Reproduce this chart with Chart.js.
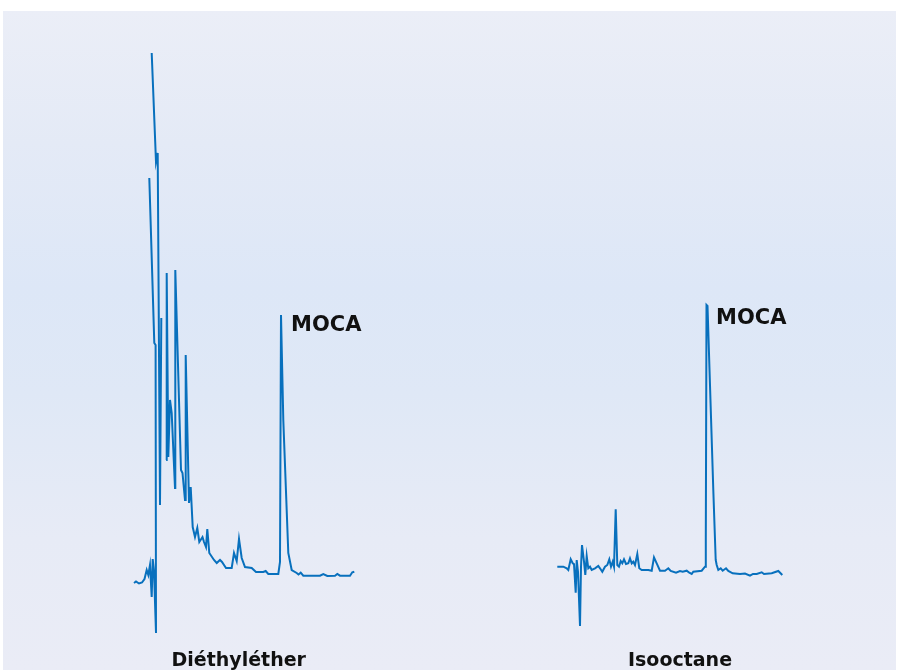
<!DOCTYPE html>
<html>
<head>
<meta charset="utf-8">
<script src="https://cdn.jsdelivr.net/npm/chart.js@4.4.1/dist/chart.umd.min.js"></script>
<style>
  html, body { margin: 0; padding: 0; background: #fff; }
  #panel {
    position: absolute; left: 3px; top: 11px; width: 893px; height: 659px;
    background: linear-gradient(to bottom, #ebeef7 0%, #e4eaf6 20%, #dde7f7 42%, #dfe8f6 58%, #e7ebf6 80%, #eaecf6 100%);
  }
  #chart { display: block; }
</style>
</head>
<body>
<div id="panel"><canvas id="chart" width="893" height="659"></canvas></div>
<script>
// Diethyl ether trace (retention, signal); null = pen lift
const ethTime = [131, 133, 136, 139, 141.5, 143.7, 145.3, 147, 148.7, 149.7, 151, 153, 152.6, 151.3, 146.3,
  147,
  148.7, 153, 154.7, 157, 158.3,
  160,
  163.1, 163.7, 165.3, 167, 168.7, 172, 172.3, 178, 179.5, 182, 182.7, 186, 187.7,
  189.7, 192, 194.3, 196.3, 199.5, 201, 203, 204.3, 206.3, 211, 213.7, 217, 219, 223, 228.7, 231, 233.7,
  236, 238.7, 242, 248.7, 253, 260.3, 262.7, 265.3, 275.3, 277, 278, 280.3, 285.3, 288.7, 293.7, 295.5,
  297.7, 300.3, 317, 320.3, 324.3, 332, 334.3, 337, 347, 349.3, 351.3];
const ethSignal = [-8, -6.5, -8.5, -7.5, -4, 5, 0, 10, -22, 16, 4, -58, 230, 232, 397,
  null,
  522, 413, 422, 70, 257,
  null,
  115, 302, 118, 175, 162, 87, 305, 105, 102, 75, 220, 72, 88,
  48, 38, 47, 33, 38, 33, 28, 46, 22, 15, 12, 15, 13, 7, 7, 22, 14,
  36, 17, 8, 7, 3, 3, 4, 1, 1, 13, 260, 155, 22, 5, 2, 0.5,
  2.3, -0.7, -0.7, 1, -1, -0.7, 1, -0.7, -0.7, 2.7, 3.3];

// Isooctane trace
const isoTime = [554.3, 560.3, 563.7, 565.3, 567.7, 569.7, 571, 572.7, 573.7, 575, 577, 578, 579, 581, 582.3,
  583.7, 585.3, 587, 588.7, 592, 595.3, 597, 599.3, 602, 604.3, 606.3, 608, 609.7, 611, 612.7, 614.3,
  616, 617.7, 619.3, 621, 623, 625.3, 627, 628.7, 630.3, 632, 634.3, 636.3, 638.7, 645.3, 648.7, 651,
  653.7, 657, 662, 665.3, 667.7, 673, 677, 679.7, 683.7, 686.3, 688.7, 690.3, 698.7, 702, 702.8, 703.5,
  704.5, 710.3, 712.7, 713.7, 715.3, 717.7, 719.7, 723, 725.3, 729.7, 737, 742, 747, 750, 753.7, 758.7,
  761, 768.7, 775.3, 779.3];
const isoSignal = [8.3, 8.3, 6.7, 5, 15.7, 11.7, 11, -17.7, 15, 3.3, -51, 8.3, 30, 13.3, 0,
  19, 6.7, 8.3, 5, 6.7, 9, 6.7, 3.3, 8.3, 10, 15.7, 8.3, 13.3, 8.3, 65.7, 10,
  8.3, 14, 11.7, 15.7, 11, 11.7, 16.7, 11.7, 13.3, 10, 21, 6.7, 5, 5, 4.3, 17.7,
  11.7, 4.3, 4.3, 6.7, 4, 2.3, 4, 3.3, 4.3, 2.3, 1, 3.3, 4.3, 8.3, 35, 270,
  269, 85, 15, 10, 5, 6.7, 4.3, 6.7, 4, 1.7, 1, 1.5, -0.7, 1, 1, 2.7,
  1, 1.7, 4, 0];

// peak labels (left edge x, baseline y)
const peakLabels = ["MOCA", "MOCA"];
const peakLabelX = [288, 713];
const peakLabelY = [244, 250.7];

// solvent captions (centre x, baseline y)
const solventLabels = ["Diéthyléther", "Isooctane"];
const solventLabelX = [235.7, 677];
const solventLabelY = [-91, -91];

const lineColor = "#0870bd";

function toPoints(xs, ys) {
  return xs.map((x, i) => ({ x: x, y: ys[i] }));
}

const labelPlugin = {
  id: "labels",
  afterDraw(chart) {
    const ctx = chart.ctx;
    const xs = chart.scales.x;
    const ys = chart.scales.y;
    ctx.save();
    ctx.fillStyle = "#111";
    ctx.textBaseline = "alphabetic";

    ctx.font = "bold 21px 'DejaVu Sans'";
    ctx.textAlign = "left";
    peakLabels.forEach((t, i) => {
      ctx.fillText(t, xs.getPixelForValue(peakLabelX[i]), ys.getPixelForValue(peakLabelY[i]));
    });

    ctx.font = "bold 19px 'DejaVu Sans'";
    ctx.textAlign = "center";
    solventLabels.forEach((t, i) => {
      ctx.fillText(t, xs.getPixelForValue(solventLabelX[i]), ys.getPixelForValue(solventLabelY[i]));
    });
    ctx.restore();
  }
};

function createChart() {
  const ctx = document.getElementById("chart").getContext("2d");
  return new Chart(ctx, {
    type: "line",
    data: {
      datasets: [
        { label: "Diéthyléther", data: toPoints(ethTime, ethSignal) },
        { label: "Isooctane", data: toPoints(isoTime, isoSignal) }
      ]
    },
    options: {
      responsive: false,
      devicePixelRatio: 1,
      animation: false,
      spanGaps: false,
      layout: { padding: 0 },
      elements: {
        line: { borderColor: lineColor, borderWidth: 2, tension: 0, borderJoinStyle: "miter" },
        point: { radius: 0, hoverRadius: 0 }
      },
      scales: {
        x: { type: "linear", display: false, min: 0, max: 893 },
        y: { display: false, min: -95, max: 564 }
      },
      plugins: {
        legend: { display: false },
        tooltip: { enabled: false }
      }
    },
    plugins: [labelPlugin]
  });
}

createChart();
</script>
</body>
</html>
